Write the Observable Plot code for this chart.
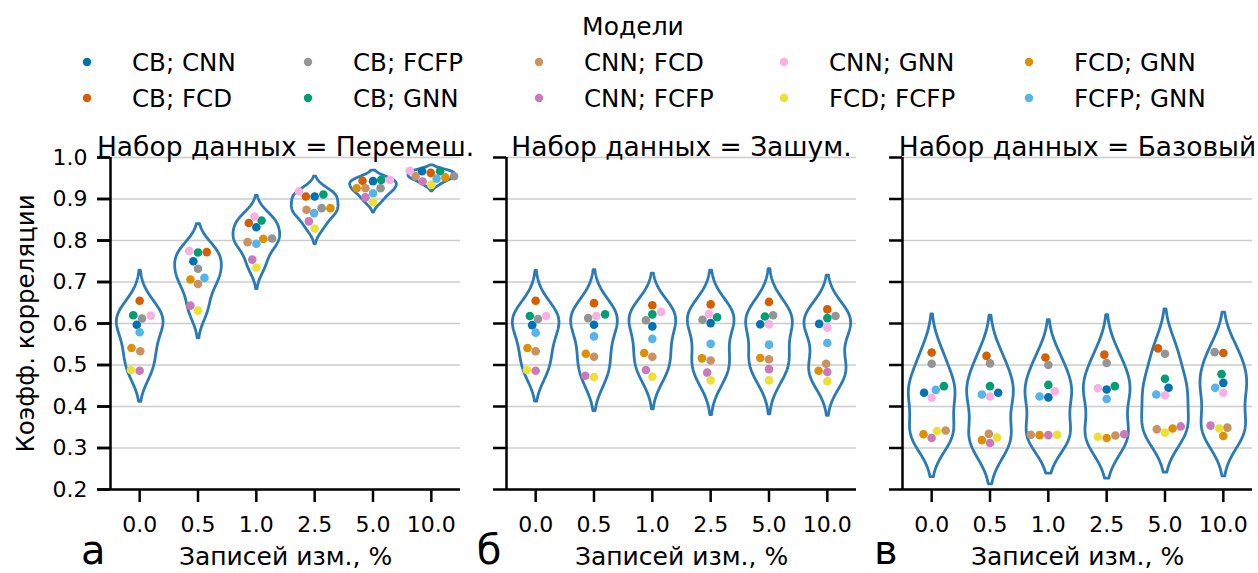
<!DOCTYPE html>
<html>
<head>
<meta charset="utf-8">
<script src="https://cdn.jsdelivr.net/npm/d3@7"></script>
<script src="https://cdn.jsdelivr.net/npm/@observablehq/plot@0.6"></script>
<style>
  html, body { margin: 0; padding: 0; background: #fff; }
  body { width: 1258px; height: 573px; overflow: hidden; font-family: "DejaVu Sans", sans-serif; }
  svg { display: block; }
</style>
</head>
<body>
<div id="legend"></div>
<div id="chart"></div>
<script>
// ---------- data ----------
const datasets = ["Перемеш.", "Зашум.", "Базовый"];
const panelLetters = ["а", "б", "в"];
const categories = ["0.0", "0.5", "1.0", "2.5", "5.0", "10.0"];
const models = ["CB; CNN", "CB; FCD", "CB; FCFP", "CB; GNN", "CNN; FCD",
                "CNN; FCFP", "CNN; GNN", "FCD; FCFP", "FCD; GNN", "FCFP; GNN"];
const modelColors = ["#0173b2", "#d55e00", "#949494", "#029e73", "#ca9161",
                     "#cc78bc", "#fbafe4", "#ece133", "#de8f05", "#56b4e9"];
const yTicks = [0.2, 0.3, 0.4, 0.5, 0.6, 0.7, 0.8, 0.9, 1.0];

// correlation values: one row per model, one column per category
const valuesShuffled = [
  [0.597, 0.750, 0.832, 0.906, 0.943, 0.967],
  [0.655, 0.772, 0.842, 0.906, 0.944, 0.963],
  [0.612, 0.732, 0.805, 0.878, 0.926, 0.955],
  [0.620, 0.771, 0.848, 0.911, 0.946, 0.967],
  [0.533, 0.695, 0.796, 0.874, 0.926, 0.955],
  [0.486, 0.643, 0.754, 0.846, 0.904, 0.942],
  [0.619, 0.775, 0.858, 0.918, 0.946, 0.968],
  [0.488, 0.631, 0.735, 0.829, 0.892, 0.934],
  [0.541, 0.706, 0.804, 0.878, 0.926, 0.952],
  [0.579, 0.710, 0.792, 0.866, 0.914, 0.949]
];
const valuesNoisy = [
  [0.596, 0.597, 0.593, 0.601, 0.598, 0.599],
  [0.655, 0.649, 0.644, 0.646, 0.652, 0.634],
  [0.611, 0.613, 0.608, 0.609, 0.620, 0.618],
  [0.618, 0.622, 0.622, 0.615, 0.617, 0.613],
  [0.533, 0.520, 0.520, 0.511, 0.514, 0.503],
  [0.486, 0.474, 0.488, 0.482, 0.490, 0.483],
  [0.618, 0.618, 0.628, 0.623, 0.598, 0.590],
  [0.488, 0.471, 0.472, 0.463, 0.463, 0.461],
  [0.541, 0.527, 0.529, 0.516, 0.517, 0.486],
  [0.578, 0.569, 0.563, 0.551, 0.549, 0.553]
];
const valuesBase = [
  [0.433, 0.433, 0.422, 0.441, 0.445, 0.457],
  [0.530, 0.522, 0.518, 0.525, 0.540, 0.529],
  [0.503, 0.504, 0.500, 0.505, 0.527, 0.531],
  [0.449, 0.449, 0.452, 0.449, 0.467, 0.478],
  [0.342, 0.334, 0.332, 0.330, 0.345, 0.349],
  [0.324, 0.312, 0.331, 0.333, 0.352, 0.354],
  [0.421, 0.424, 0.437, 0.444, 0.427, 0.433],
  [0.341, 0.325, 0.332, 0.327, 0.337, 0.347],
  [0.333, 0.319, 0.331, 0.324, 0.347, 0.329],
  [0.440, 0.429, 0.424, 0.418, 0.429, 0.445]
];
// swarm offsets (fraction of a category step)
const swarmShuffled = [
  [-0.05, -0.08, 0.00, 0.00, 0.00, -0.16],
  [0.00, 0.15, -0.13, -0.15, -0.18, -0.01],
  [0.04, 0.00, 0.27, 0.12, 0.13, 0.39],
  [-0.11, 0.00, 0.09, 0.15, 0.14, 0.15],
  [0.01, 0.00, -0.15, -0.14, -0.13, -0.27],
  [0.00, -0.13, -0.07, -0.10, -0.13, -0.15],
  [0.19, -0.15, -0.03, -0.27, 0.29, -0.37],
  [-0.15, 0.00, 0.00, 0.00, 0.00, 0.00],
  [-0.14, -0.13, 0.12, 0.27, -0.28, 0.24],
  [0.00, 0.11, 0.00, -0.01, 0.00, 0.09]
];
const swarmNoisy = [
  [-0.06, 0.00, 0.00, 0.00, -0.15, -0.14],
  [0.00, 0.00, 0.00, 0.00, 0.00, 0.00],
  [0.04, -0.10, -0.11, -0.14, 0.07, 0.14],
  [-0.10, 0.19, 0.00, 0.11, -0.07, 0.00],
  [0.00, 0.00, 0.00, 0.00, 0.00, -0.02],
  [0.00, -0.15, -0.11, -0.06, 0.00, 0.00],
  [0.18, 0.04, 0.15, -0.03, 0.00, 0.00],
  [-0.15, 0.00, 0.00, 0.00, 0.00, 0.00],
  [-0.14, -0.14, -0.14, -0.15, -0.15, -0.15],
  [0.00, 0.00, 0.00, 0.00, 0.00, 0.00]
];
const swarmBase = [
  [-0.13, 0.14, 0.00, 0.00, 0.06, 0.00],
  [0.00, -0.06, -0.05, -0.04, -0.12, 0.00],
  [0.00, 0.00, 0.00, 0.00, 0.00, -0.15],
  [0.21, 0.00, 0.00, 0.14, 0.00, -0.03],
  [0.24, -0.02, -0.30, 0.15, -0.14, 0.07],
  [0.00, 0.00, 0.00, 0.30, 0.27, -0.22],
  [0.00, 0.00, 0.11, -0.15, 0.00, 0.00],
  [0.09, 0.12, 0.15, -0.15, 0.00, -0.07],
  [-0.14, -0.14, -0.15, 0.00, 0.13, 0.00],
  [0.07, -0.14, -0.15, 0.00, -0.15, -0.14]
];

const valuesByDataset = [valuesShuffled, valuesNoisy, valuesBase];
const swarmByDataset = [swarmShuffled, swarmNoisy, swarmBase];

// ---------- derived tables ----------
const points = [];
datasets.forEach((ds, di) => {
  categories.forEach((c, ci) => {
    models.forEach((m, mi) => {
      points.push({ds, model: m, ci, v: valuesByDataset[di][mi][ci], off: swarmByDataset[di][mi][ci]});
    });
  });
});

// violin outlines: gaussian KDE, Scott bandwidth, cut = 2, each scaled to the same width
function violin(vals) {
  const n = vals.length;
  const bw = d3.deviation(vals) * Math.pow(n, -0.2);
  const lo = d3.min(vals) - 2 * bw, hi = d3.max(vals) + 2 * bw;
  const grid = d3.range(100).map(i => lo + (hi - lo) * i / 99);
  const dens = grid.map(y => d3.sum(vals, v => Math.exp(-0.5 * ((y - v) / bw) ** 2)));
  const mx = d3.max(dens);
  return grid.map((y, i) => ({y, w: dens[i] / mx * 0.4}));
}
const violinPts = [];
datasets.forEach((ds, di) => {
  categories.forEach((c, ci) => {
    const vals = models.map((m, mi) => valuesByDataset[di][mi][ci]);
    const k = violin(vals);
    const key = ds + "|" + c;
    const right = k.map(p => ({ds, key, x: ci + p.w, y: p.y}));
    const left = k.slice().reverse().map(p => ({ds, key, x: ci - p.w, y: p.y}));
    violinPts.push(...right, ...left, right[0]);
  });
});

// ---------- legend ----------
const legend = d3.create("svg")
  .attr("width", 1258).attr("height", 118)
  .style("font-family", "'DejaVu Sans', sans-serif");
legend.append("text")
  .attr("x", 633).attr("y", 35).attr("text-anchor", "middle")
  .attr("font-size", 25).attr("fill", "#000").text("Модели");
const colX = [87, 308, 539, 784, 1029];
models.forEach((m, i) => {
  const col = Math.floor(i / 2), row = i % 2;
  const g = legend.append("g").attr("transform", `translate(${colX[col]},${row === 0 ? 62 : 98})`);
  g.append("circle").attr("r", 4.2).attr("fill", modelColors[i]);
  g.append("text").attr("x", 45).attr("y", 9).attr("font-size", 24.5).attr("fill", "#000").text(m);
});
document.getElementById("legend").append(legend.node());

// ---------- chart ----------
const chart = Plot.plot({
  width: 1258,
  height: 455,
  marginTop: 39,
  marginBottom: 84,
  marginLeft: 109,
  marginRight: 6,
  style: {fontFamily: "'DejaVu Sans', sans-serif", fontSize: "22px", color: "#000", background: "#fff"},
  fx: {domain: datasets, axis: null, label: null, paddingInner: 0.1173, paddingOuter: 0},
  x: {type: "linear", domain: [-0.5, 5.5], axis: null},
  y: {domain: [0.2, 1.0], axis: null},
  color: {domain: models, range: modelColors},
  marks: [
    Plot.ruleY(yTicks, {stroke: "#cccccc", strokeWidth: 1.3}),
    Plot.line(violinPts, {fx: "ds", x: "x", y: "y", z: "key", stroke: "#2a7ab6", strokeWidth: 2.8, curve: "linear"}),
    Plot.dot(points, {fx: "ds", x: d => d.ci + d.off, y: "v", fill: "model", r: 4.3}),
    Plot.ruleX([-0.5], {stroke: "#000", strokeWidth: 2.5}),
    Plot.ruleY([0.2], {stroke: "#000", strokeWidth: 2.5}),
    Plot.axisX(d3.range(categories.length), {
      tickSize: 13, tickPadding: 14, strokeWidth: 2.5, fontSize: 22,
      tickFormat: i => categories[i], label: null
    }),
    Plot.axisY(yTicks, {tickSize: 13, strokeWidth: 2.5, tickFormat: () => "", label: null, facetAnchor: null}),
    Plot.axisY(yTicks, {tickSize: 13, tickPadding: 10, strokeWidth: 2.5, fontSize: 22,
      tickFormat: d3.format(".1f"), label: null}),
    Plot.text(datasets, {fx: d => d, text: d => "Набор данных = " + d, frameAnchor: "top",
      lineAnchor: "bottom", dy: -2, fontSize: 26.5, fill: "#000"}),
    Plot.text(datasets, {fx: d => d, text: () => "Записей изм., %", frameAnchor: "bottom",
      lineAnchor: "bottom", dy: 75, fontSize: 25, fill: "#000"}),
    Plot.text(datasets, {fx: d => d, text: (d, i) => panelLetters[i], frameAnchor: "bottom-left",
      textAnchor: "end", lineAnchor: "bottom", dx: -5, dy: 74, fontSize: 40, fill: "#000"}),
    Plot.text([datasets[0]], {fx: d => d, text: () => "Коэфф. корреляции", frameAnchor: "left",
      textAnchor: "middle", rotate: -90, lineAnchor: "bottom", dx: -77, fontSize: 24.5, fill: "#000"})
  ]
});
document.getElementById("chart").append(chart);
</script>
</body>
</html>
